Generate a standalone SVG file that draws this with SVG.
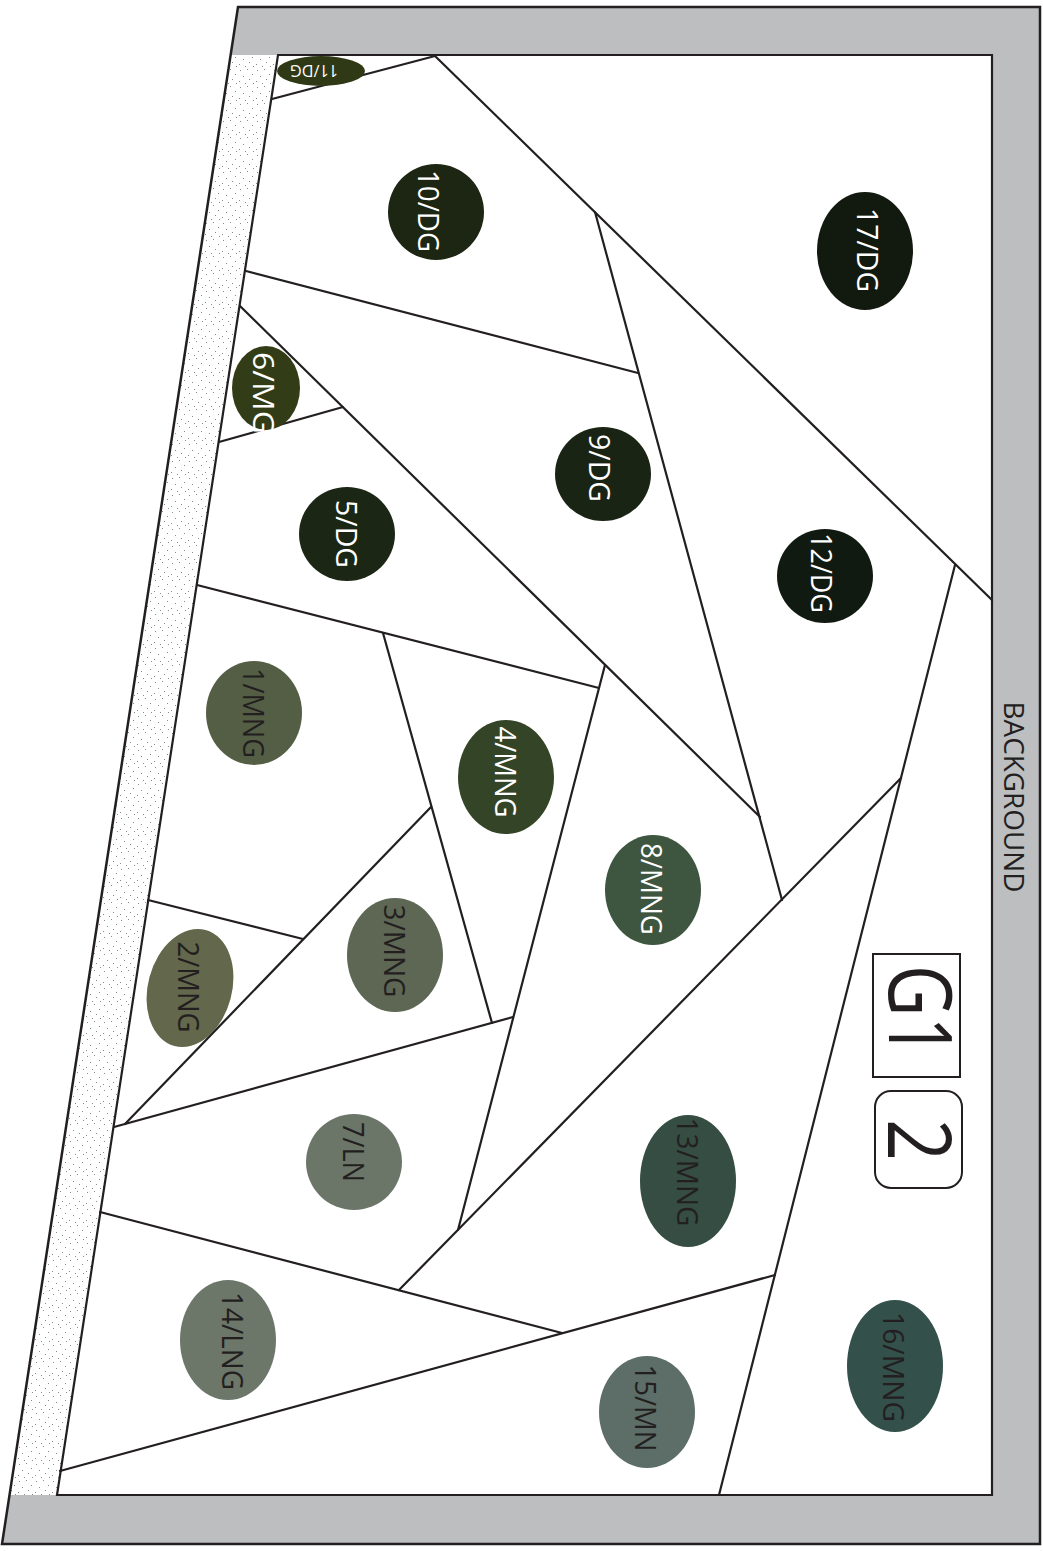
<svg xmlns="http://www.w3.org/2000/svg" width="1043" height="1551" viewBox="0 0 1043 1551">
<style>
.ln{stroke:#231f20;stroke-width:2.2;fill:none;stroke-linecap:round}
.lb{font-family:"Open Sans","Liberation Sans",Arial,sans-serif;font-size:30px;text-anchor:middle}
.w{fill:#ffffff}
.d{fill:#231f20}
.dt{fill:#8a8a8a}
</style>
<defs>
<pattern id="stip" width="17" height="17" patternUnits="userSpaceOnUse">
<rect width="17" height="17" fill="#ffffff"/>
<rect class="dt" x="2" y="2" width="1" height="1"/>
<rect class="dt" x="9" y="1" width="1" height="1"/>
<rect class="dt" x="14" y="6" width="1" height="1"/>
<rect class="dt" x="5" y="8" width="1" height="1"/>
<rect class="dt" x="11" y="11" width="1" height="1"/>
<rect class="dt" x="1" y="13" width="1" height="1"/>
<rect class="dt" x="7" y="15" width="1" height="1"/>
<rect class="dt" x="15" y="15" width="1" height="1"/>
</pattern>
</defs>
<g id="frame">
<polygon points="238,7 1040,7 1040,1544 2,1544" fill="#bcbec0"/>
<polygon points="230.6,55 278,55 57,1495 9.5,1495" fill="url(#stip)"/>
<polygon points="278,55 992,55 992,1495 57,1495" fill="#ffffff" stroke="#231f20" stroke-width="2.2"/>
<polygon points="238,7 1040,7 1040,1544 2,1544" fill="none" stroke="#231f20" stroke-width="2.5"/>
</g>
<g id="seams">
<line class="ln" x1="435" y1="56" x2="272" y2="99"/>
<line class="ln" x1="435" y1="56" x2="992" y2="600"/>
<line class="ln" x1="595" y1="212" x2="782" y2="900"/>
<line class="ln" x1="246" y1="271" x2="638" y2="373"/>
<line class="ln" x1="240" y1="306" x2="760" y2="817"/>
<line class="ln" x1="219" y1="442" x2="343" y2="407"/>
<line class="ln" x1="197" y1="585" x2="599" y2="688"/>
<line class="ln" x1="383" y1="633" x2="492" y2="1023"/>
<line class="ln" x1="605" y1="665" x2="458" y2="1230"/>
<line class="ln" x1="955" y1="565" x2="719" y2="1495"/>
<line class="ln" x1="901" y1="778" x2="399" y2="1290"/>
<line class="ln" x1="114" y1="1127" x2="513" y2="1017"/>
<line class="ln" x1="125" y1="1124" x2="431" y2="807"/>
<line class="ln" x1="148" y1="900" x2="303" y2="939"/>
<line class="ln" x1="100" y1="1212" x2="562" y2="1333"/>
<line class="ln" x1="60" y1="1471" x2="775" y2="1275"/>
</g>
<g id="p11"><ellipse cx="321" cy="71" rx="44" ry="15" fill="#2f3916"/><text class="lb w" style="font-size:17px" transform="translate(314,71) rotate(180)" y="6" textLength="48" lengthAdjust="spacingAndGlyphs">11/DG</text></g>
<g id="p10"><ellipse cx="436" cy="212" rx="48" ry="48" fill="#1c2613"/><text class="lb w" transform="translate(429,211) rotate(90)" y="10.7" textLength="82" lengthAdjust="spacingAndGlyphs">10/DG</text></g>
<g id="p17"><ellipse cx="865" cy="251" rx="48" ry="59" fill="#121a10"/><text class="lb w" transform="translate(868,250) rotate(90)" y="10.7" textLength="84" lengthAdjust="spacingAndGlyphs">17/DG</text></g>
<g id="p9"><ellipse cx="603" cy="474" rx="48" ry="47" fill="#1a2414"/><text class="lb w" transform="translate(600,468) rotate(90)" y="10.7" textLength="68" lengthAdjust="spacingAndGlyphs">9/DG</text></g>
<g id="p12"><ellipse cx="825" cy="576" rx="48" ry="47" fill="#111a10"/><text class="lb w" transform="translate(822,573) rotate(90)" y="10.7" textLength="80" lengthAdjust="spacingAndGlyphs">12/DG</text></g>
<g id="p6"><ellipse cx="266" cy="388" rx="34" ry="42" fill="#323d18"/><text class="lb w" style="text-anchor:start" transform="translate(264,352) rotate(90)" y="10.7" textLength="82" lengthAdjust="spacingAndGlyphs">6/MG</text></g>
<g id="p5"><ellipse cx="347" cy="534" rx="48" ry="47" fill="#1b2614"/><text class="lb w" transform="translate(347,534) rotate(90)" y="10.7" textLength="68" lengthAdjust="spacingAndGlyphs">5/DG</text></g>
<g id="p1"><ellipse cx="254" cy="713" rx="48" ry="52" fill="#545e45"/><text class="lb d" transform="translate(254,713) rotate(90)" y="10.7" textLength="90" lengthAdjust="spacingAndGlyphs">1/MNG</text></g>
<g id="p4"><ellipse cx="506" cy="777" rx="48" ry="57" fill="#344427"/><text class="lb w" transform="translate(506,772) rotate(90)" y="10.7" textLength="91" lengthAdjust="spacingAndGlyphs">4/MNG</text></g>
<g id="p3"><ellipse cx="395" cy="955" rx="48" ry="57" fill="#5d6754"/><text class="lb d" transform="translate(395,951) rotate(90)" y="10.7" textLength="93" lengthAdjust="spacingAndGlyphs">3/MNG</text></g>
<g id="p2"><ellipse cx="190" cy="988" rx="42" ry="60" fill="#63674b" transform="rotate(15 190 988)"/><text class="lb d" transform="translate(189,987) rotate(90)" y="10.7" textLength="91" lengthAdjust="spacingAndGlyphs">2/MNG</text></g>
<g id="p8"><ellipse cx="653" cy="890" rx="48" ry="55" fill="#3e553f"/><text class="lb w" transform="translate(652,889) rotate(90)" y="10.7" textLength="92" lengthAdjust="spacingAndGlyphs">8/MNG</text></g>
<g id="p7"><ellipse cx="354" cy="1162" rx="48" ry="48" fill="#6b7669"/><text class="lb d" transform="translate(354,1152) rotate(90)" y="10.7" textLength="60" lengthAdjust="spacingAndGlyphs">7/LN</text></g>
<g id="p14"><ellipse cx="228" cy="1340" rx="48" ry="60" fill="#6c776a"/><text class="lb d" transform="translate(233,1341) rotate(90)" y="10.7" textLength="98" lengthAdjust="spacingAndGlyphs">14/LNG</text></g>
<g id="p13"><ellipse cx="688" cy="1181" rx="48" ry="66" fill="#354d42"/><text class="lb d" transform="translate(688,1172) rotate(90)" y="10.7" textLength="109" lengthAdjust="spacingAndGlyphs">13/MNG</text></g>
<g id="p15"><ellipse cx="647" cy="1412" rx="48" ry="56" fill="#5d6d67"/><text class="lb d" transform="translate(646,1408) rotate(90)" y="10.7" textLength="87" lengthAdjust="spacingAndGlyphs">15/MN</text></g>
<g id="p16"><ellipse cx="895" cy="1366" rx="48" ry="66" fill="#33504a"/><text class="lb d" transform="translate(894,1367) rotate(90)" y="10.7" textLength="110" lengthAdjust="spacingAndGlyphs">16/MNG</text></g>
<g id="bg-label"><text class="lb d" style="font-size:27px" transform="translate(1014,797) rotate(90)" y="9.7" textLength="191" lengthAdjust="spacingAndGlyphs">BACKGROUND</text></g>
<g id="g1"><rect x="873" y="954" width="87" height="123" fill="none" stroke="#231f20" stroke-width="2"/><text class="lb d" style="font-size:88px" transform="translate(920,1011) rotate(90)" y="31.5" textLength="92" lengthAdjust="spacingAndGlyphs">G1</text></g>
<g id="g2"><rect x="875" y="1091" width="87" height="97" rx="16" fill="none" stroke="#231f20" stroke-width="2"/><text class="lb d" style="font-size:88px" transform="translate(919,1140) rotate(90)" y="31.5" textLength="42" lengthAdjust="spacingAndGlyphs">2</text></g>
</svg>
